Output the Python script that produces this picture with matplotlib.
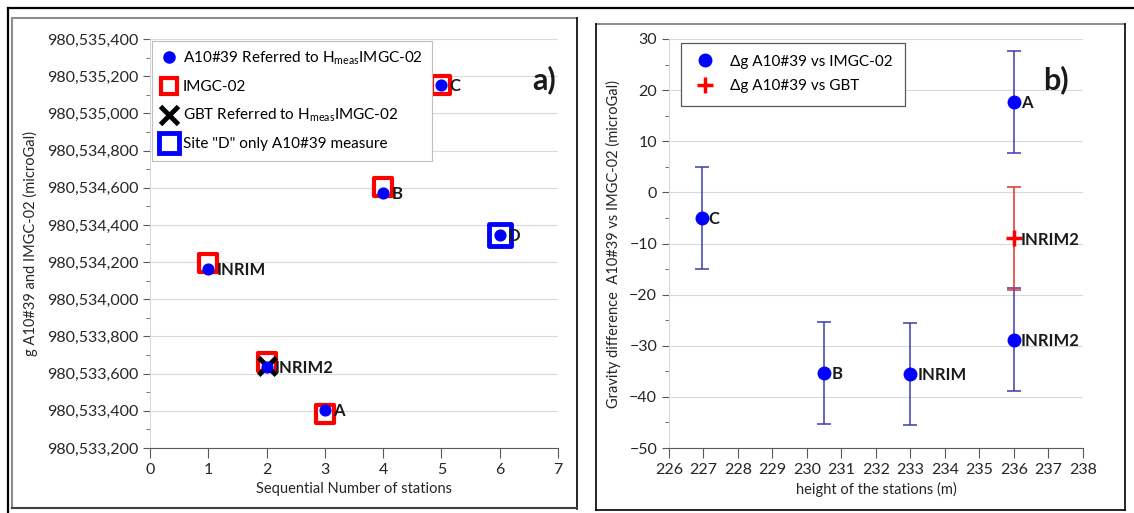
import matplotlib
matplotlib.use("Agg")
import matplotlib.pyplot as plt
from matplotlib.lines import Line2D
from matplotlib.ticker import FuncFormatter, MultipleLocator

plt.rcParams['font.family'] = ['Lato', 'DejaVu Sans']
plt.rcParams['mathtext.default'] = 'regular'

# panel a data
stazioni_a = ["INRIM", "INRIM2", "A", "B", "C", "D"]
nr_a = [1, 2, 3, 4, 5, 6]
g_a10 = [980534165, 980533636, 980533404, 980534572, 980535153, 980534346]
nr_imgc = [1, 2, 3, 4, 5]
g_imgc = [980534195, 980533660, 980533385, 980534604, 980535155]
nr_gbt = [2]
g_gbt = [980533640]
nr_d = [6]
g_d = [980534346]

# panel b data
stazioni_b = ["C", "B", "INRIM", "A", "INRIM2"]
hoyde = [226.95, 230.5, 233.0, 236.0, 236.0]
dg_imgc = [-5.0, -35.3, -35.5, 17.7, -28.8]
err_imgc = [10, 10, 10, 10, 10]
hoyde_gbt = [236.0]
dg_gbt = [-9.0]
err_gbt = [10]

W, H = 1134, 513
fig = plt.figure(figsize=(W / 100, H / 100), dpi=100)


def px(x, y):
    return x / W, 1 - y / H


def strek(x0, y0, x1, y1, farge, lw=1.2):
    (a, b), (c, d) = px(x0, y0), px(x1, y1)
    fig.add_artist(Line2D([a, c], [b, d], color=farge, lw=lw, transform=fig.transFigure))


# frames
strek(8, 8, 1134, 8, 'black', 1.6)
strek(8, 8, 8, 513, 'black', 1.6)
strek(12, 18, 577, 18, '#8c8c8c', 1.5)
strek(12, 18, 12, 508, '#8c8c8c', 1.5)
strek(577, 18, 577, 509, 'black', 1.2)
strek(12, 508, 577, 508, '#404040', 1.5)
strek(596, 24, 1125, 24, '#8c8c8c', 1.5)
strek(596, 24, 596, 510, 'black', 1.2)
strek(1125, 24, 1125, 510, 'black', 1.2)
strek(596, 510, 1125, 510, 'black', 1.2)

ax1 = fig.add_axes([150 / W, 1 - 448 / H, (558 - 150) / W, (448 - 39) / H])
ax2 = fig.add_axes([669 / W, 1 - 448 / H, (1083 - 669) / W, (448 - 39) / H])

for ax in (ax1, ax2):
    ax.set_facecolor('none')
    ax.spines['top'].set_visible(False)
    ax.spines['right'].set_visible(False)
    ax.spines['left'].set_color('#d9d9d9')
    ax.spines['bottom'].set_color('#595959')
    ax.grid(axis='y', color='#d9d9d9', lw=0.8)
    ax.set_axisbelow(True)
    ax.tick_params(axis='y', which='major', length=5, color='#595959', labelsize=11.5, labelcolor='#262626')
    ax.tick_params(axis='y', which='minor', length=3, color='#595959')
    ax.tick_params(axis='x', which='major', length=7, color='#595959', labelsize=11.5, labelcolor='#262626')

# panel a
ax1.scatter(nr_imgc, g_imgc, marker='s', s=150, facecolors='white', edgecolors='red', linewidths=3, zorder=3)
ax1.scatter(nr_d, g_d, marker='s', s=260, facecolors='white', edgecolors='blue', linewidths=3.5, zorder=3)
ax1.scatter(nr_gbt, g_gbt, marker='x', s=160, color='black', linewidths=3.5, zorder=4)
ax1.scatter(nr_a, g_a10, marker='o', s=60, color='blue', zorder=5)
for n, g, s in zip(nr_a, g_a10, stazioni_a):
    ax1.annotate(s, (n, g), xytext=(6, -1), textcoords='offset points', ha='left', va='center',
                 fontsize=12, fontweight='bold', color='#1a1a1a', zorder=6)

ax1.set_xlim(0, 7)
ax1.set_ylim(980533200, 980535400)
ax1.xaxis.set_major_locator(MultipleLocator(1))
ax1.yaxis.set_major_locator(MultipleLocator(200))
ax1.yaxis.set_minor_locator(MultipleLocator(100))
ax1.yaxis.set_major_formatter(FuncFormatter(lambda v, p: f"{v:,.0f}"))
ax1.set_xlabel("Sequential Number of stations", fontsize=10.5, color='#262626', labelpad=4)
ax1.set_ylabel("g A10#39 and IMGC-02 (microGal)", fontsize=10.5, color='#262626', labelpad=6)

handles_a = [
    Line2D([], [], ls='none', marker='o', ms=8, color='blue'),
    Line2D([], [], ls='none', marker='s', ms=12, mfc='white', mec='red', mew=3),
    Line2D([], [], ls='none', marker='x', ms=13, color='black', mew=3.5),
    Line2D([], [], ls='none', marker='s', ms=15, mfc='white', mec='blue', mew=3.5),
]
labels_a = ["A10#39 Referred to H$_{meas}$IMGC-02", "IMGC-02",
            "GBT Referred to H$_{meas}$IMGC-02", 'Site "D" only A10#39 measure']
leg1 = ax1.legend(handles_a, labels_a, loc='upper left', bbox_to_anchor=(0.0, 1.0), fontsize=11,
                  frameon=True, fancybox=False, edgecolor='#bfbfbf', framealpha=1,
                  handlelength=1.1, handletextpad=0.35, labelspacing=0.85, borderpad=0.6,
                  borderaxespad=0.1)
leg1.get_frame().set_linewidth(0.8)
ax1.text(0.965, 0.90, "a)", transform=ax1.transAxes, fontsize=22, fontweight='bold',
         ha='center', va='center', color='#1a1a1a')

# panel b
ax2.errorbar(hoyde, dg_imgc, yerr=err_imgc, fmt='none', ecolor='#3c3cac', elinewidth=1.1,
             capsize=5, capthick=1.1, zorder=3)
ax2.errorbar(hoyde_gbt, dg_gbt, yerr=err_gbt, fmt='none', ecolor='#e03030', elinewidth=1.1,
             capsize=5, capthick=1.1, zorder=3)
ax2.plot(hoyde, dg_imgc, ls='none', marker='o', ms=9, color='blue', zorder=5,
         label="\u0394g A10#39 vs IMGC-02")
ax2.plot(hoyde_gbt, dg_gbt, ls='none', marker='+', ms=11, mew=2.5, color='red', zorder=5,
         label="\u0394g A10#39 vs GBT")
for h, d, s in zip(hoyde + hoyde_gbt, dg_imgc + dg_gbt, stazioni_b + ["INRIM2"]):
    ax2.annotate(s, (h, d), xytext=(5, -1), textcoords='offset points', ha='left', va='center',
                 fontsize=12, fontweight='bold', color='#1a1a1a', zorder=6)

ax2.set_xlim(226, 238)
ax2.set_ylim(-50, 30)
ax2.xaxis.set_major_locator(MultipleLocator(1))
ax2.yaxis.set_major_locator(MultipleLocator(10))
ax2.yaxis.set_minor_locator(MultipleLocator(5))
ax2.set_xlabel("height of the stations (m)", fontsize=10.5, color='#262626', labelpad=4)
ax2.set_ylabel("Gravity difference  A10#39 vs IMGC-02 (microGal)", fontsize=10.5, color='#262626',
               labelpad=6)
leg2 = ax2.legend(loc='upper left', bbox_to_anchor=(0.025, 0.995), fontsize=11, frameon=True,
                  fancybox=False, edgecolor='#595959', framealpha=1, handlelength=1.5,
                  handletextpad=0.9, labelspacing=0.7, borderpad=0.8, borderaxespad=0.1)
leg2.get_frame().set_linewidth(0.9)
ax2.text(0.935, 0.90, "b)", transform=ax2.transAxes, fontsize=22, fontweight='bold',
         ha='center', va='center', color='#1a1a1a')

fig.savefig("out.png", dpi=100)
